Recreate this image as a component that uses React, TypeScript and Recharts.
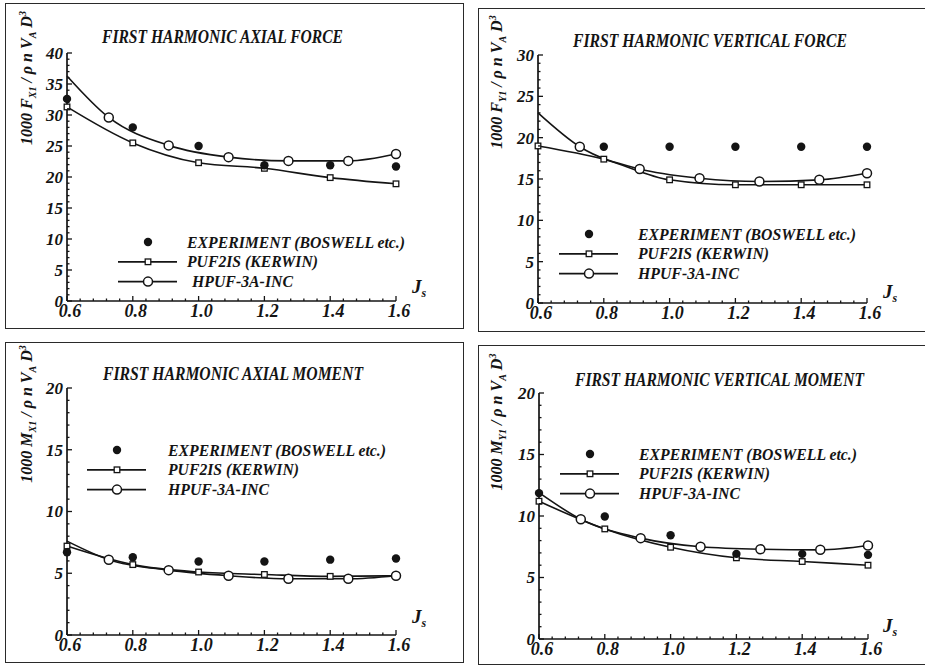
import { LineChart, Line, XAxis, YAxis, Legend } from 'recharts';

const INK = '#141414';

// advance ratios of the measured / computed points
const J_TEST = [0.6, 0.8, 1.0, 1.2, 1.4, 1.6];
const J_HPUF = [0.6, 0.727, 0.909, 1.091, 1.273, 1.455, 1.6];
const X_MAJOR = [0.6, 0.8, 1.0, 1.2, 1.4, 1.6];

// first harmonic axial force
const FX_EXP = [32.6, 28.0, 25.0, 21.9, 21.9, 21.7];
const FX_PUF = [31.3, 25.5, 22.3, 21.4, 19.9, 18.9];
const FX_HPUF = [36.3, 29.6, 25.1, 23.2, 22.6, 22.6, 23.7];

// first harmonic vertical force
const FY_EXP = [null, 18.9, 18.9, 18.9, 18.9, 18.9];
const FY_PUF = [19.0, 17.4, 14.9, 14.3, 14.3, 14.3];
const FY_HPUF = [23.0, 18.9, 16.2, 15.1, 14.7, 14.9, 15.7];

// first harmonic axial moment
const MX_EXP = [6.7, 6.3, 5.95, 5.95, 6.1, 6.2];
const MX_PUF = [7.2, 5.7, 5.1, 4.9, 4.75, 4.8];
const MX_HPUF = [7.6, 6.1, 5.25, 4.8, 4.55, 4.55, 4.8];

// first harmonic vertical moment
const MY_EXP = [11.86, 9.96, 8.44, 6.92, 6.92, 6.84];
const MY_PUF = [11.2, 8.95, 7.46, 6.6, 6.3, 6.0];
const MY_HPUF = [11.9, 9.74, 8.2, 7.5, 7.3, 7.25, 7.6];

const LEGEND_NAMES = ['EXPERIMENT (BOSWELL etc.)', 'PUF2IS (KERWIN)', 'HPUF-3A-INC'];
const LEGEND_WIDTHS = [218, 131, 101];

type Row = { J: number; exp?: number | null; puf?: number | null; hpuf?: number | null };

function buildRows(exp: (number | null)[], puf: number[], hpuf: number[]): Row[] {
  const map = new Map<number, Row>();
  J_TEST.forEach((j, i) => {
    const r = map.get(j) ?? { J: j };
    r.exp = exp[i];
    r.puf = puf[i];
    map.set(j, r);
  });
  J_HPUF.forEach((j, i) => {
    const r = map.get(j) ?? { J: j };
    r.hpuf = hpuf[i];
    map.set(j, r);
  });
  return Array.from(map.values()).sort((a, b) => a.J - b.J);
}

type Box = { left: number; top: number; width: number; height: number };

interface PanelCfg {
  title: string;
  titleAt: [number, number, number];
  sym: string;
  sub: string;
  yMax: number;
  box: Box;
  plot: { x0: number; x1: number; y0: number; y1: number };
  yLabelAt: [number, number];
  jsAt: [number, number];
  legendAt: [number, number, number, number];
  rows: Row[];
}

const PANELS: PanelCfg[] = [
  {
    title: 'FIRST HARMONIC AXIAL FORCE',
    titleAt: [102, 43, 241],
    sym: 'F',
    sub: 'X1',
    yMax: 40,
    box: { left: 5, top: 3, width: 459, height: 326 },
    plot: { x0: 67, x1: 396, y0: 53, y1: 301 },
    yLabelAt: [32, 78],
    jsAt: [412, 293],
    legendAt: [148, 242, 39, 5],
    rows: buildRows(FX_EXP, FX_PUF, FX_HPUF),
  },
  {
    title: 'FIRST HARMONIC VERTICAL FORCE',
    titleAt: [573, 47, 274],
    sym: 'F',
    sub: 'Y1',
    yMax: 30,
    box: { left: 478, top: 8, width: 470, height: 324 },
    plot: { x0: 538, x1: 867, y0: 55, y1: 303 },
    yLabelAt: [502, 82],
    jsAt: [883, 298],
    legendAt: [589, 234, 49, 0],
    rows: buildRows(FY_EXP, FY_PUF, FY_HPUF),
  },
  {
    title: 'FIRST HARMONIC AXIAL MOMENT',
    titleAt: [103, 380, 260],
    sym: 'M',
    sub: 'X1',
    yMax: 20,
    box: { left: 5, top: 342, width: 459, height: 321 },
    plot: { x0: 67, x1: 396, y0: 388, y1: 635 },
    yLabelAt: [32, 414],
    jsAt: [412, 623],
    legendAt: [117, 450, 51, 0],
    rows: buildRows(MX_EXP, MX_PUF, MX_HPUF),
  },
  {
    title: 'FIRST HARMONIC VERTICAL MOMENT',
    titleAt: [575, 386, 289],
    sym: 'M',
    sub: 'Y1',
    yMax: 20,
    box: { left: 478, top: 345, width: 470, height: 320 },
    plot: { x0: 539, x1: 868, y0: 393, y1: 639 },
    yLabelAt: [502, 422],
    jsAt: [883, 632],
    legendAt: [590, 454, 49, 0],
    rows: buildRows(MY_EXP, MY_PUF, MY_HPUF),
  },
];

const YW = 44;
const XH = 26;

// bold italic Times look for every label
const serif = {
  fontFamily: "'Liberation Serif', 'Times New Roman', Times, serif",
  fontWeight: 700,
  fontStyle: 'italic' as const,
};

function XTick({ x, y, payload }: any) {
  const v = payload.value as number;
  const major = X_MAJOR.some((m) => Math.abs(m - v) < 1e-6);
  return (
    <g>
      <line x1={x} x2={x} y1={y} y2={y - (major ? 5 : 2.5)} stroke={INK} strokeWidth={1.3} />
      {major && (
        <text x={x + 3} y={y + 16} textAnchor="middle" fill={INK} style={{ ...serif, fontSize: 18 }}>
          {v.toFixed(1)}
        </text>
      )}
    </g>
  );
}

function YTick({ x, y, payload }: any) {
  const v = payload.value as number;
  const major = v % 5 === 0;
  return (
    <g>
      <line x1={x} x2={x + (major ? 5 : 2.5)} y1={y} y2={y} stroke={INK} strokeWidth={1.3} />
      {major && (
        <text x={x - 4} y={y} dy="0.35em" textAnchor="end" fill={INK} style={{ ...serif, fontSize: 17 }}>
          {v}
        </text>
      )}
    </g>
  );
}

const isGap = (p: any) => p.cy == null || Number.isNaN(p.cy);

const expDot = (p: any) =>
  isGap(p) || p.payload.exp == null ? (
    <g key={`e${p.index}`} />
  ) : (
    <circle key={`e${p.index}`} cx={p.cx} cy={p.cy} r={4.2} fill={INK} />
  );

const pufDot = (p: any) =>
  isGap(p) || p.payload.puf == null ? (
    <g key={`p${p.index}`} />
  ) : (
    <rect key={`p${p.index}`} x={p.cx - 2.8} y={p.cy - 2.8} width={5.6} height={5.6} fill="#fff" stroke={INK} strokeWidth={1.3} />
  );

// the first HPUF point (J = 0.6) has no symbol, only the line starts there
const hpufDot = (p: any) =>
  isGap(p) || p.payload.hpuf == null || p.payload.J === 0.6 ? (
    <g key={`h${p.index}`} />
  ) : (
    <circle key={`h${p.index}`} cx={p.cx} cy={p.cy} r={4.5} fill="#fff" stroke={INK} strokeWidth={1.5} />
  );

function LegendBlock({ textOff, indent }: { textOff: number; indent: number }) {
  const mx = 32;
  const rows = [10, 29.8, 49.6];
  return (
    <svg width={300} height={62} style={{ display: 'block', overflow: 'visible' }}>
      <circle cx={mx} cy={rows[0]} r={4.2} fill={INK} />
      {[1, 2].map((k) => (
        <line key={k} x1={mx - 30} x2={mx + 29} y1={rows[k]} y2={rows[k]} stroke={INK} strokeWidth={1.7} />
      ))}
      <rect x={mx - 2.8} y={rows[1] - 2.8} width={5.6} height={5.6} fill="#fff" stroke={INK} strokeWidth={1.3} />
      <circle cx={mx} cy={rows[2]} r={4.5} fill="#fff" stroke={INK} strokeWidth={1.5} />
      {LEGEND_NAMES.map((name, k) => (
        <text
          key={name}
          x={mx + textOff + (k === 2 ? indent : 0)}
          y={rows[k] + 5.5}
          fill={INK}
          style={{ ...serif, fontSize: 17 }}
          textLength={LEGEND_WIDTHS[k]}
          lengthAdjust="spacingAndGlyphs"
        >
          {name}
        </text>
      ))}
    </svg>
  );
}

function Panel({ cfg }: { cfg: PanelCfg }) {
  const { box, plot } = cfg;
  const margin = {
    top: plot.y0 - box.top,
    left: plot.x0 - box.left - YW,
    right: box.left + box.width - plot.x1,
    bottom: box.top + box.height - plot.y1 - XH,
  };
  const xTicks = Array.from({ length: 26 }, (_, i) => +(0.6 + i * 0.04).toFixed(2));
  const yTicks = Array.from({ length: cfg.yMax + 1 }, (_, i) => i);
  const [tx, ty, tw] = cfg.titleAt;
  const [lx, ly] = cfg.yLabelAt;
  const [jx, jy] = cfg.jsAt;
  const [gx, gy, textOff, indent] = cfg.legendAt;

  return (
    <>
      <div
        style={{
          position: 'absolute',
          left: box.left,
          top: box.top,
          width: box.width,
          height: box.height,
          border: '1.5px solid #2a2a2a',
          boxSizing: 'border-box',
        }}
      />
      <div style={{ position: 'absolute', left: box.left, top: box.top }}>
        <LineChart width={box.width} height={box.height} data={cfg.rows} margin={margin}>
          <XAxis
            dataKey="J"
            type="number"
            domain={[0.6, 1.6]}
            ticks={xTicks}
            interval={0}
            height={XH}
            tickSize={0}
            tickMargin={0}
            tickLine={false}
            tick={<XTick />}
            axisLine={{ stroke: INK, strokeWidth: 1.7 }}
          />
          <YAxis
            type="number"
            domain={[0, cfg.yMax]}
            ticks={yTicks}
            interval={0}
            width={YW}
            tickSize={0}
            tickMargin={0}
            tickLine={false}
            tick={<YTick />}
            axisLine={{ stroke: INK, strokeWidth: 1.7 }}
          />
          <Line
            dataKey="puf"
            type="monotone"
            stroke={INK}
            strokeWidth={1.6}
            connectNulls
            dot={pufDot}
            activeDot={false}
            isAnimationActive={false}
          />
          <Line
            dataKey="hpuf"
            type="monotone"
            stroke={INK}
            strokeWidth={1.6}
            connectNulls
            dot={hpufDot}
            activeDot={false}
            isAnimationActive={false}
          />
          <Line
            dataKey="exp"
            stroke="none"
            dot={expDot}
            activeDot={false}
            isAnimationActive={false}
          />
          <Legend
            layout="vertical"
            align="center"
            verticalAlign="middle"
            content={() => <LegendBlock textOff={textOff} indent={indent} />}
            wrapperStyle={{ left: gx - box.left - 32, top: gy - box.top - 10, width: 300, height: 62 }}
          />
          <text
            x={tx - box.left}
            y={ty - box.top}
            fill={INK}
            style={{ ...serif, fontSize: 18 }}
            textLength={tw}
            lengthAdjust="spacingAndGlyphs"
          >
            {cfg.title}
          </text>
          <text
            transform={`translate(${lx - box.left},${ly - box.top}) rotate(-90)`}
            textAnchor="middle"
            fill={INK}
            style={{ ...serif, fontSize: 16 }}
          >
            1000 {cfg.sym}
            <tspan style={{ fontSize: 10 }} dy={4}>{cfg.sub}</tspan>
            <tspan dy={-4}> / ρ n V</tspan>
            <tspan style={{ fontSize: 10 }} dy={4}>A</tspan>
            <tspan dy={-4}> D</tspan>
            <tspan style={{ fontSize: 10 }} dy={-6}>3</tspan>
          </text>
          <text x={jx - box.left} y={jy - box.top} fill={INK} style={{ ...serif, fontSize: 19 }}>
            J
            <tspan style={{ fontSize: 12 }} dy={4}>s</tspan>
          </text>
        </LineChart>
      </div>
    </>
  );
}

export default function App() {
  return (
    <div
      style={{
        position: 'absolute',
        left: 0,
        top: 0,
        width: 925,
        height: 666,
        overflow: 'hidden',
        background: '#fff',
      }}
    >
      {PANELS.map((p) => (
        <Panel key={p.title} cfg={p} />
      ))}
    </div>
  );
}
